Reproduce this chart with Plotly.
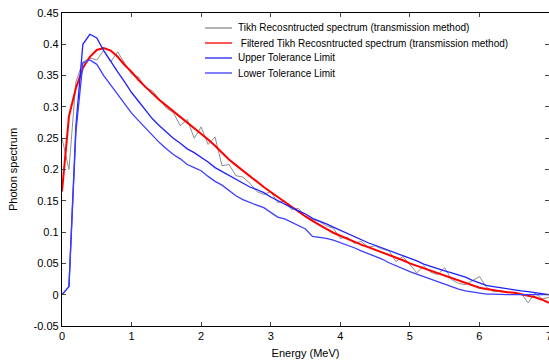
import plotly.graph_objects as go

energy = [round(i * 0.1, 1) for i in range(71)]

tikh = [0.250, 0.200, 0.340, 0.372, 0.378, 0.375, 0.390, 0.372, 0.388, 0.370,
        0.352, 0.348, 0.330, 0.326, 0.312, 0.298, 0.291, 0.270, 0.280, 0.250,
        0.268, 0.240, 0.252, 0.206, 0.208, 0.190, 0.188, 0.178, 0.165, 0.160,
        0.165, 0.147, 0.150, 0.136, 0.138, 0.124, 0.120, 0.117, 0.110, 0.106,
        0.090, 0.092, 0.082, 0.085, 0.076, 0.078, 0.073, 0.070, 0.053, 0.061,
        0.048, 0.035, 0.046, 0.036, 0.032, 0.043, 0.024, 0.018, 0.016, 0.022,
        0.029, 0.012, 0.005, 0.006, 0.004, 0.003, 0.002, -0.013, 0.003, -0.007,
        -0.004]

filtered = [0.165, 0.285, 0.330, 0.362, 0.380, 0.391, 0.394, 0.390, 0.380, 0.367,
            0.356, 0.343, 0.332, 0.321, 0.311, 0.302, 0.293, 0.284, 0.276, 0.267,
            0.258, 0.248, 0.238, 0.227, 0.216, 0.207, 0.198, 0.189, 0.180, 0.172,
            0.164, 0.156, 0.148, 0.140, 0.133, 0.125, 0.118, 0.111, 0.105, 0.099,
            0.094, 0.089, 0.084, 0.080, 0.076, 0.072, 0.067, 0.063, 0.059, 0.055,
            0.050, 0.046, 0.042, 0.038, 0.034, 0.030, 0.026, 0.022, 0.018, 0.015,
            0.011, 0.009, 0.007, 0.005, 0.004, 0.003, 0.001, -0.001, -0.004, -0.008,
            -0.013]

upper = [0.000, 0.013, 0.270, 0.400, 0.416, 0.410, 0.390, 0.372, 0.356, 0.340,
         0.323, 0.309, 0.294, 0.281, 0.270, 0.260, 0.250, 0.242, 0.233, 0.227,
         0.220, 0.212, 0.203, 0.197, 0.190, 0.184, 0.178, 0.172, 0.168, 0.163,
         0.156, 0.150, 0.145, 0.139, 0.134, 0.129, 0.122, 0.118, 0.113, 0.108,
         0.103, 0.097, 0.092, 0.087, 0.083, 0.079, 0.075, 0.071, 0.066, 0.063,
         0.058, 0.054, 0.049, 0.045, 0.042, 0.038, 0.035, 0.032, 0.028, 0.023,
         0.019, 0.015, 0.013, 0.011, 0.009, 0.008, 0.006, 0.005, 0.003, 0.002,
         0.000]

lower = [0.000, 0.013, 0.260, 0.370, 0.375, 0.368, 0.350, 0.335, 0.320, 0.305,
         0.290, 0.278, 0.266, 0.254, 0.243, 0.233, 0.224, 0.217, 0.208, 0.203,
         0.198, 0.189, 0.181, 0.175, 0.166, 0.158, 0.152, 0.147, 0.143, 0.139,
         0.131, 0.124, 0.121, 0.116, 0.110, 0.105, 0.093, 0.092, 0.090, 0.087,
         0.083, 0.080, 0.075, 0.070, 0.066, 0.062, 0.057, 0.051, 0.046, 0.041,
         0.037, 0.033, 0.029, 0.025, 0.020, 0.016, 0.012, 0.009, 0.006, 0.004,
         0.002, 0.001, 0.001, 0.000, 0.000, 0.000, 0.000, 0.000, 0.000, 0.000,
         0.000]

series_names = ["Tikh Recosntructed spectrum (transmission method)",
                " Filtered Tikh Recosntructed spectrum (transmission method)",
                "Upper Tolerance Limit",
                "Lower Tolerance Limit"]
series_colors = ["#8c8c8c", "#ff0000", "#1f1fff", "#3d3dff"]
series_widths = [1, 2, 1.3, 1.3]
series_values = [tikh, filtered, upper, lower]

x_ticks = [0, 1, 2, 3, 4, 5, 6, 7]
y_ticks = [-0.05, 0, 0.05, 0.1, 0.15, 0.2, 0.25, 0.3, 0.35, 0.4, 0.45]
y_tick_text = ["-0.05", "0", "0.05", "0.1", "0.15", "0.2", "0.25", "0.3", "0.35", "0.4", "0.45"]

W, H = 549, 362
ML, MR, MT, MB = 62, 0, 13, 36
PW, PH = W - ML - MR, H - MT - MB

fig = go.Figure()
for name, vals, col, w in zip(series_names, series_values, series_colors, series_widths):
    fig.add_trace(go.Scatter(x=energy, y=vals, mode="lines", name=name,
                             line=dict(color=col, width=w), showlegend=False))

font = "Liberation Sans, Arial, Helvetica, sans-serif"

# compact legend (15 px rows) drawn with shapes and annotations
shapes, annotations = [], []
for i, (name, col) in enumerate(zip(series_names, series_colors)):
    py = 28 + 15 * i
    yp = (H - MB - py) / PH
    shapes.append(dict(type="line", xref="paper", yref="paper",
                       x0=(205 - ML) / PW, x1=(232 - ML) / PW, y0=yp, y1=yp,
                       line=dict(color=col, width=1.3)))
    annotations.append(dict(xref="paper", yref="paper", x=(236 - ML) / PW, y=yp,
                            xanchor="left", yanchor="middle", showarrow=False,
                            text=name.replace(" ", "&nbsp;", 1) if name.startswith(" ") else name,
                            font=dict(size=10, family=font, color="black")))

fig.update_layout(
    width=W, height=H,
    margin=dict(l=ML, r=MR, t=MT, b=MB),
    paper_bgcolor="white", plot_bgcolor="white",
    font=dict(family=font, size=11, color="black"),
    showlegend=False,
    shapes=shapes, annotations=annotations,
    xaxis=dict(range=[0, 7], tickvals=x_ticks, ticks="inside", ticklen=4,
               showline=True, linecolor="black", linewidth=1.3, mirror="ticks",
               showgrid=False, zeroline=False, ticklabeloverflow="allow",
               title=dict(text="Energy (MeV)", standoff=7, font=dict(size=11)),
               tickfont=dict(size=11), automargin=False),
    yaxis=dict(range=[-0.05, 0.45], tickvals=y_ticks, ticktext=y_tick_text,
               ticks="inside", ticklen=4,
               showline=True, linecolor="black", linewidth=1.3, mirror="ticks",
               showgrid=False, zeroline=False,
               title=dict(text="Photon spectrum", standoff=13, font=dict(size=11)),
               tickfont=dict(size=11), automargin=False),
)

fig.write_html("out.html")
